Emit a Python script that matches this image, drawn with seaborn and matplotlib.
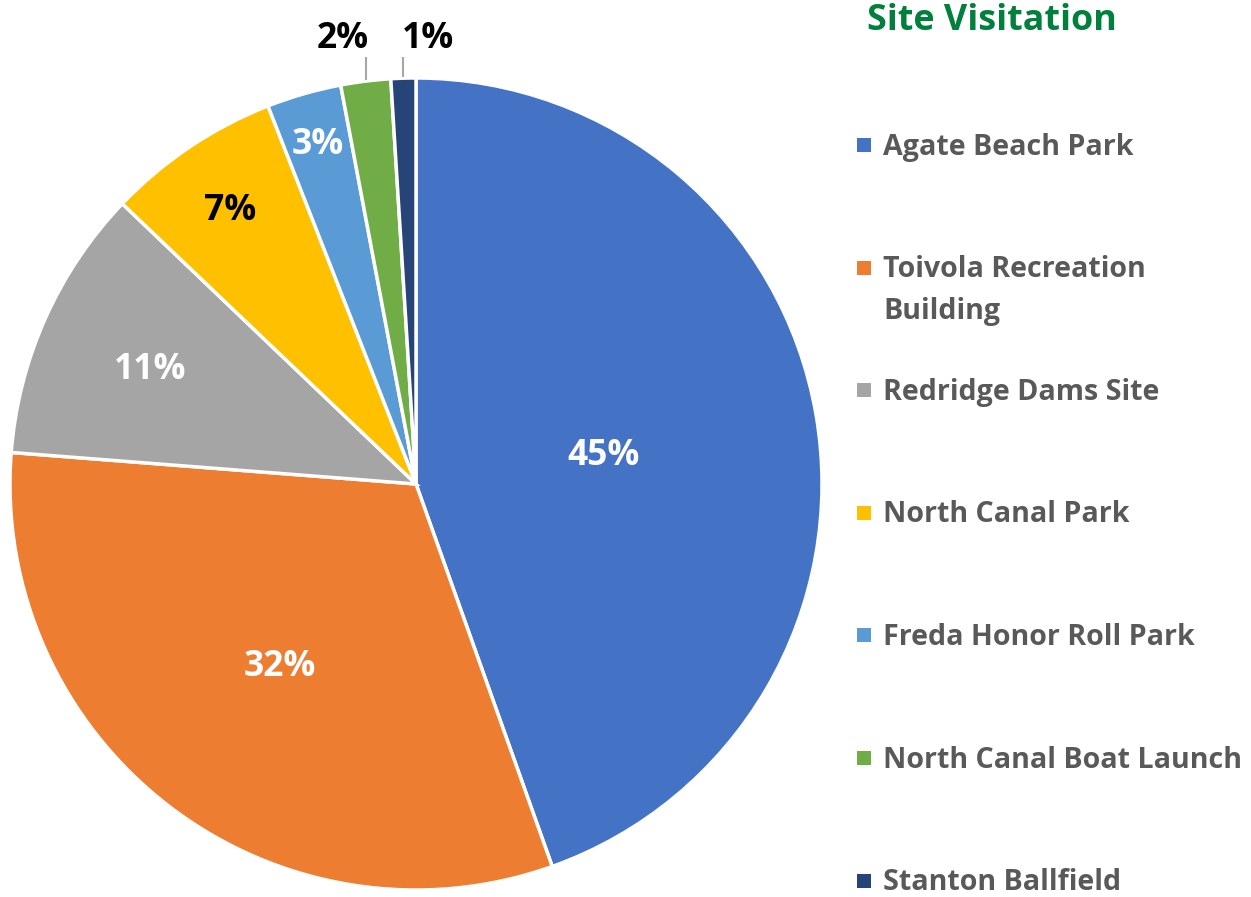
import numpy as np
import matplotlib
matplotlib.use("Agg")
import matplotlib.pyplot as plt
import seaborn as sns

# Share of visits per site (percent)
sites = [
    "Agate Beach Park",
    "Toivola Recreation\nBuilding",
    "Redridge Dams Site",
    "North Canal Park",
    "Freda Honor Roll Park",
    "North Canal Boat Launch",
    "Stanton Ballfield",
]
visits_pct = [45, 32, 11, 7, 3, 2, 1]
title = "Site Visitation"

sns.set_theme(style="white")
plt.rcParams["font.family"] = ["Open Sans", "DejaVu Sans"]

colors = sns.color_palette(
    ["#4472C4", "#ED7D31", "#A5A5A5", "#FFC000", "#5B9BD5", "#70AD47", "#264478"]
)
label_colors = ["white", "white", "white", "black", "white", "black", "black"]
label_radius = [0.47, 0.553, 0.718, 0.822, 0.88, None, None]
# outside labels: horizontal offset of text from its leader line
outside_dx = {5: -0.056, 6: 0.061}

W, H = 1251, 897
fig = plt.figure(figsize=(W / 100, H / 100), dpi=100)
fig.patch.set_facecolor("white")

cx, cy, R = 416, 484, 406
ax = fig.add_axes([(cx - R) / W, (H - cy - R) / H, 2 * R / W, 2 * R / H])
wedges, _ = ax.pie(
    visits_pct,
    colors=colors,
    startangle=90,
    counterclock=False,
    radius=1.0,
    wedgeprops=dict(edgecolor="white", linewidth=2.5),
)
ax.set_xlim(-1, 1)
ax.set_ylim(-1, 1)
ax.axis("off")

for i, (w, v) in enumerate(zip(wedges, visits_pct)):
    mid = np.deg2rad((w.theta1 + w.theta2) / 2)
    txt = f"{v}%"
    if label_radius[i] is not None:
        r = label_radius[i]
        ax.text(r * np.cos(mid), r * np.sin(mid), txt, ha="center",
                va="center_baseline", color=label_colors[i], fontsize=25.5,
                fontweight="bold")
    else:
        lx = np.cos(mid)
        ax.plot([lx, lx], [np.sin(mid) + 0.003, 1.052], color="#A6A6A6",
                lw=1.5, clip_on=False, solid_capstyle="butt")
        ax.text(lx + outside_dx[i], 1.106, txt, ha="center",
                va="center_baseline", color=label_colors[i], fontsize=25.5,
                fontweight="bold", clip_on=False)

# Title
fig.text(992 / W, 1 - 21 / H, title, ha="center", va="center",
         color="#00803C", fontsize=25.8, fontweight="bold")

# Legend entries
step = 122.6
line_gap = 42
for i, (name, c) in enumerate(zip(sites, colors)):
    yc = 145 + i * step
    fig.patches.append(plt.Rectangle(((857) / W, 1 - (yc + 7) / H), 14 / W, 14 / H,
                                     transform=fig.transFigure, facecolor=c,
                                     edgecolor="none"))
    for k, line in enumerate(name.split("\n")):
        fig.text(883 / W, 1 - (yc + 2 + k * line_gap) / H, line, ha="left",
                 va="center", color="#595959", fontsize=20.6, fontweight="bold")

fig.savefig("out.png", dpi=100, facecolor="white")
